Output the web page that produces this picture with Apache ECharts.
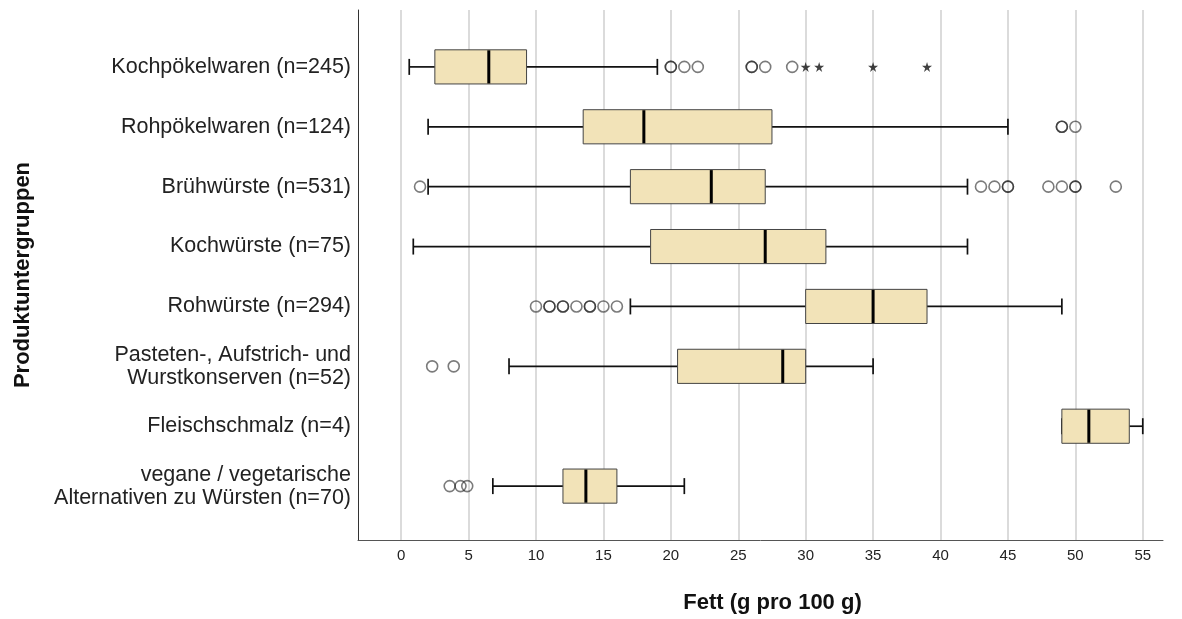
<!DOCTYPE html>
<html>
<head>
<meta charset="utf-8">
<script src="https://cdn.jsdelivr.net/npm/echarts@6/dist/echarts.min.js"></script>
<style>html,body{margin:0;padding:0;background:#fff}#c{width:1182px;height:619px}</style>
</head>
<body>
<div id="c"></div>
<script>
const categories = [
  'Kochpökelwaren (n=245)',
  'Rohpökelwaren (n=124)',
  'Brühwürste (n=531)',
  'Kochwürste (n=75)',
  'Rohwürste (n=294)',
  'Pasteten-, Aufstrich- und\nWurstkonserven (n=52)',
  'Fleischschmalz (n=4)',
  'vegane / vegetarische\nAlternativen zu Würsten (n=70)'
];
const whiskerLow  = [0.6, 2,    2,  0.9, 17, 8,    49, 6.8];
const q1          = [2.5, 13.5, 17, 18.5, 30, 20.5, 49, 12];
const median      = [6.5, 18,   23, 27,   35, 28.3, 51, 13.7];
const q3          = [9.3, 27.5, 27, 31.5, 39, 30,   54, 16];
const whiskerHigh = [19,  45,   42, 42,   49, 35,   55, 21];
const circleOutliers = [
  [20, 20, 21, 22, 26, 26, 27, 29],
  [49, 49, 50],
  [1.4, 43, 44, 45, 45, 48, 49, 50, 50, 53],
  [],
  [10, 11, 11, 12, 12, 13, 14, 14, 15, 16],
  [2.3, 3.9],
  [],
  [3.6, 4.4, 4.9]
];
const starOutliers = [[30, 31, 35, 39], [], [], [], [], [], [], []];
const xTicks = [0, 5, 10, 15, 20, 25, 30, 35, 40, 45, 50, 55];

const FONT = '"Liberation Sans", Arial, sans-serif';
const boxData = categories.map((c, i) => [i, whiskerLow[i], q1[i], median[i], q3[i], whiskerHigh[i]]);
const circleData = [];
circleOutliers.forEach((arr, i) => arr.forEach(v => circleData.push([v, i])));
const starData = [];
starOutliers.forEach((arr, i) => arr.forEach(v => starData.push([v, i])));

const chart = echarts.init(document.getElementById('c'), null, {renderer: 'canvas'});
chart.setOption({
  animation: false,
  backgroundColor: '#fff',
  grid: {left: 358, right: 19, top: 10, bottom: 78},
  xAxis: {
    type: 'value', min: -3.2, max: 56.5,
    name: 'Fett (g pro 100 g)', nameLocation: 'middle', nameGap: 52,
    nameTextStyle: {fontFamily: FONT, fontSize: 22, fontWeight: 'bold', color: '#111', padding: [0, 0, 0, 24]},
    axisLine: {show: true, onZero: false, lineStyle: {color: '#555', width: 1}},
    axisTick: {show: false, customValues: xTicks},
    axisLabel: {customValues: xTicks, fontFamily: FONT, fontSize: 15, color: '#222', margin: 8},
    splitLine: {show: true, lineStyle: {color: '#cfcfcf', width: 1.5}}
  },
  yAxis: {
    type: 'value', inverse: true, min: -0.95, max: 7.9,
    name: 'Produktuntergruppen', nameLocation: 'middle', nameGap: 324, nameRotate: 90,
    nameTextStyle: {fontFamily: FONT, fontSize: 22, fontWeight: 'bold', color: '#111'},
    axisLine: {show: true, onZero: false, lineStyle: {color: '#333', width: 1}},
    axisTick: {show: false, customValues: [0,1,2,3,4,5,6,7]},
    splitLine: {show: false},
    axisLabel: {
      customValues: [0,1,2,3,4,5,6,7],
      formatter: v => categories[Math.round(v)],
      fontFamily: FONT, fontSize: 21.5, color: '#222', margin: 7, lineHeight: 23, align: 'right',
      padding: [5, 0, 0, 0]
    }
  },
  series: [
    {
      type: 'custom',
      data: boxData,
      encode: {x: [1, 2, 3, 4, 5], y: 0},
      renderItem: function (params, api) {
        const i = api.value(0);
        const px = v => api.coord([v, i])[0];
        const y = api.coord([0, i])[1];
        const band = api.size([0, 1])[1];
        const h = band * 0.57;
        const cap = 8;
        const wl = px(api.value(1)), b1 = px(api.value(2)), md = px(api.value(3)), b3 = px(api.value(4)), wh = px(api.value(5));
        const ws = {stroke: '#111', lineWidth: 1.7};
        return {
          type: 'group',
          children: [
            {type: 'line', shape: {x1: wl, y1: y, x2: b1, y2: y}, style: ws},
            {type: 'line', shape: {x1: b3, y1: y, x2: wh, y2: y}, style: ws},
            {type: 'line', shape: {x1: wl, y1: y - cap, x2: wl, y2: y + cap}, style: ws},
            {type: 'line', shape: {x1: wh, y1: y - cap, x2: wh, y2: y + cap}, style: ws},
            {type: 'rect', shape: {x: b1, y: y - h / 2, width: b3 - b1, height: h},
              style: {fill: '#F2E3B8', stroke: '#444', lineWidth: 1}},
            {type: 'line', shape: {x1: md, y1: y - h / 2 + 0.5, x2: md, y2: y + h / 2 - 0.5},
              style: {stroke: '#000', lineWidth: 3}}
          ]
        };
      },
      z: 3
    },
    {
      type: 'scatter',
      data: circleData,
      symbol: 'circle',
      symbolSize: 11,
      itemStyle: {color: 'rgba(0,0,0,0)', borderColor: 'rgba(20,20,20,0.7)', borderWidth: 1.6},
      z: 4
    },
    {
      type: 'scatter',
      data: starData,
      symbol: 'path://M50,0 L61,35 L98,35 L68,57 L79,91 L50,70 L21,91 L32,57 L2,35 L39,35 Z',
      symbolSize: 10,
      itemStyle: {color: '#111'},
      z: 4
    }
  ]
});
</script>
</body>
</html>
